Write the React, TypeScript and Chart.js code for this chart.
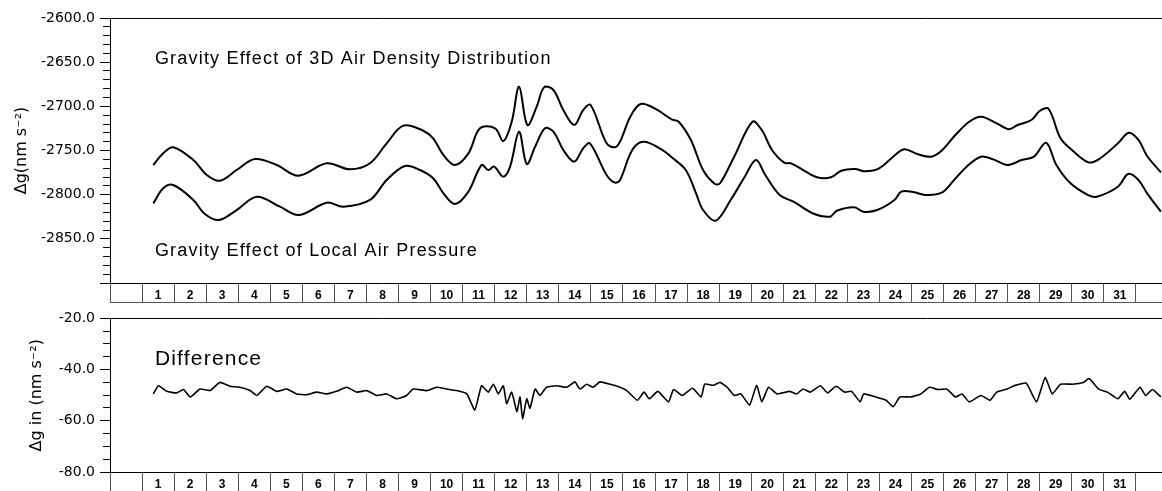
import React, { useEffect, useRef } from 'react';
import { Chart, registerables } from 'chart.js';

Chart.register(...registerables);
Chart.defaults.color = '#000';

// ---------- data (x = day of month, y = nm s^-2) ----------
const DAY_LABELS = ['1','2','3','4','5','6','7','8','9','10','11','12','13','14','15','16','17','18','19','20','21','22','23','24','25','26','27','28','29','30','31'];
const DAY_BOUNDARIES = [0,1,2,3,4,5,6,7,8,9,10,11,12,13,14,15,16,17,18,19,20,21,22,23,24,25,26,27,28,29,30,31,32];

const TOP_Y_LABELED = [-2600, -2650, -2700, -2750, -2800, -2850];
const BOTTOM_Y_LABELED = [-20, -40, -60, -80];

const DENSITY_EFFECT: [number, number][] = [
  [1.35,-2766.4],[1.66,-2753.2],[1.97,-2746.4],[2.60,-2760.8],[3.02,-2777.7],[3.43,-2784.2],[3.95,-2772.1],
  [4.52,-2759.6],[5.20,-2766.4],[5.87,-2778.5],[6.76,-2764.5],[7.49,-2771.3],[8.11,-2764.5],[8.63,-2741.9],
  [9.15,-2721.9],[9.77,-2727.6],[10.08,-2736.2],[10.40,-2755.1],[10.76,-2766.4],[11.18,-2753.2],[11.54,-2724.9],
  [12.01,-2724.9],[12.27,-2739.2],[12.53,-2717.4],[12.76,-2677.8],[13.02,-2721.1],[13.31,-2700.4],[13.54,-2678.5],
  [13.83,-2681.5],[14.14,-2704.2],[14.48,-2721.1],[14.76,-2704.2],[14.99,-2698.5],[15.49,-2741.9],[15.75,-2746.4],
  [15.91,-2740.0],[16.23,-2711.7],[16.55,-2697.4],[16.99,-2702.3],[17.52,-2714.7],[17.74,-2717.4],[18.12,-2738.1],
  [18.50,-2772.1],[18.87,-2787.9],[19.03,-2787.1],[19.47,-2757.0],[20.04,-2717.4],[20.33,-2726.8],[20.65,-2749.4],
  [21.03,-2763.8],[21.24,-2764.5],[21.62,-2772.1],[22.05,-2780.3],[22.49,-2780.3],[22.81,-2772.9],[23.24,-2771.0],
  [23.56,-2773.6],[23.99,-2770.2],[24.43,-2757.0],[24.77,-2748.6],[25.18,-2754.0],[25.61,-2757.0],[25.94,-2750.2],
  [26.37,-2732.5],[26.80,-2717.4],[27.17,-2711.7],[27.66,-2719.2],[28.04,-2726.0],[28.31,-2721.1],[28.74,-2715.5],
  [29.01,-2705.0],[29.28,-2703.0],[29.65,-2736.2],[30.03,-2750.2],[30.52,-2763.4],[30.84,-2760.0],[31.44,-2741.9],
  [31.78,-2729.9],[32.08,-2738.1],[32.35,-2756.2],[32.78,-2774.7],
];

const PRESSURE_EFFECT: [number, number][] = [
  [1.35,-2809.8],[1.66,-2792.8],[1.97,-2789.1],[2.60,-2806.0],[2.96,-2821.9],[3.40,-2828.7],[3.95,-2817.4],
  [4.58,-2802.3],[5.30,-2813.6],[5.90,-2823.0],[6.76,-2809.1],[7.28,-2813.6],[8.11,-2806.0],[8.63,-2783.4],
  [9.20,-2767.5],[9.67,-2772.1],[10.08,-2781.5],[10.40,-2798.5],[10.76,-2810.6],[11.18,-2796.6],[11.59,-2766.4],
  [11.80,-2772.1],[11.98,-2768.3],[12.27,-2779.7],[12.48,-2768.3],[12.76,-2728.7],[13.00,-2765.3],[13.26,-2745.7],
  [13.57,-2724.9],[13.83,-2728.7],[14.14,-2749.4],[14.48,-2762.7],[14.76,-2747.5],[14.97,-2741.9],[15.49,-2777.7],
  [15.75,-2786.4],[15.91,-2783.4],[16.29,-2749.4],[16.64,-2740.0],[17.20,-2748.6],[17.52,-2757.7],[17.96,-2772.1],
  [18.28,-2798.5],[18.50,-2817.4],[18.89,-2829.5],[19.36,-2806.0],[19.80,-2779.7],[20.15,-2760.8],[20.44,-2777.7],
  [20.89,-2800.4],[21.32,-2808.0],[21.97,-2821.9],[22.46,-2824.9],[22.67,-2818.2],[23.22,-2814.3],[23.50,-2819.3],
  [23.93,-2817.4],[24.47,-2806.0],[24.68,-2796.6],[25.01,-2796.6],[25.44,-2800.4],[25.94,-2797.8],[26.33,-2783.4],
  [26.72,-2768.3],[27.17,-2757.0],[27.55,-2760.0],[27.99,-2766.4],[28.44,-2760.8],[28.82,-2757.0],[29.20,-2741.2],
  [29.52,-2766.4],[29.96,-2787.1],[30.51,-2800.4],[30.78,-2802.3],[31.44,-2791.0],[31.76,-2776.6],[32.08,-2783.4],
  [32.35,-2798.5],[32.78,-2819.3],
];

const DIFFERENCE: [number, number][] = [
  [1.35,-49.5],[1.51,-46.3],[1.77,-48.5],[2.08,-49.1],[2.29,-47.8],[2.50,-50.7],[2.81,-47.6],[3.12,-48.2],
  [3.43,-45.0],[3.74,-46.5],[4.05,-46.9],[4.37,-48.2],[4.58,-50.1],[4.89,-46.5],[5.20,-48.5],[5.51,-47.6],
  [5.82,-49.5],[6.14,-49.8],[6.45,-48.8],[6.76,-49.5],[7.07,-48.5],[7.38,-46.9],[7.70,-48.8],[8.01,-48.2],
  [8.32,-50.1],[8.63,-49.5],[8.94,-51.4],[9.25,-50.1],[9.46,-47.6],[9.88,-48.2],[10.19,-46.9],[10.50,-47.6],
  [10.81,-48.2],[11.13,-49.5],[11.38,-55.8],[11.59,-46.3],[11.80,-48.8],[11.96,-45.7],[12.11,-49.5],[12.27,-46.3],
  [12.37,-53.3],[12.53,-48.8],[12.69,-56.4],[12.79,-50.7],[12.87,-59.2],[13.00,-51.4],[13.10,-55.1],[13.26,-47.6],
  [13.41,-50.1],[13.62,-46.9],[13.93,-46.3],[14.25,-46.9],[14.50,-44.8],[14.66,-47.6],[14.87,-45.7],[15.07,-46.9],
  [15.28,-44.8],[15.60,-45.7],[15.91,-46.9],[16.12,-48.2],[16.45,-52.0],[16.66,-48.8],[16.82,-51.4],[17.09,-48.5],
  [17.42,-52.6],[17.58,-47.8],[17.85,-50.1],[18.17,-47.3],[18.44,-50.7],[18.55,-45.7],[18.82,-46.1],[19.03,-45.0],
  [19.25,-46.9],[19.47,-50.1],[19.68,-49.5],[19.95,-53.9],[20.17,-46.1],[20.33,-52.6],[20.54,-46.9],[20.81,-49.5],
  [21.19,-48.5],[21.41,-49.5],[21.62,-47.6],[21.84,-48.8],[22.16,-46.3],[22.38,-49.1],[22.65,-46.5],[22.92,-48.8],
  [23.13,-48.5],[23.40,-52.6],[23.51,-49.5],[23.89,-50.7],[24.21,-52.0],[24.43,-54.5],[24.64,-50.7],[24.97,-50.7],
  [25.29,-49.5],[25.56,-46.9],[25.83,-47.8],[26.10,-47.6],[26.37,-50.7],[26.58,-49.5],[26.80,-52.6],[27.17,-50.1],
  [27.45,-52.0],[27.66,-48.8],[27.98,-47.6],[28.20,-46.3],[28.58,-45.3],[28.90,-52.6],[29.17,-43.1],[29.39,-49.5],
  [29.65,-45.7],[30.03,-45.7],[30.36,-45.0],[30.54,-43.5],[30.84,-47.6],[31.11,-48.8],[31.44,-51.4],[31.65,-48.5],
  [31.81,-51.6],[32.13,-46.9],[32.30,-50.1],[32.52,-47.8],[32.78,-50.7],
];

const TOP_TEXTS = ['Gravity Effect of 3D Air Density Distribution', 'Gravity Effect of Local Air Pressure'];
const BOTTOM_TEXTS = ['Difference'];

// ---------- helpers ----------
const X_MAX = 34;
const TEXT_FONT = '"Liberation Sans", Arial, sans-serif';
const AXIS_FONT = '"DejaVu Sans", sans-serif';

function rangeTicks(min: number, max: number, step: number) {
  const out: number[] = [];
  for (let v = min; v <= max + 1e-9; v += step) out.push(Math.round(v * 1000) / 1000);
  return out;
}

function dayAxis() {
  return {
    type: 'linear',
    position: 'bottom',
    min: 0,
    max: X_MAX,
    afterBuildTicks: (s: any) => {
      const vals = [...DAY_BOUNDARIES, ...DAY_LABELS.map((_, i) => i + 1.5)].sort((a, b) => a - b);
      s.ticks = vals.map((v) => ({ value: v }));
    },
    afterFit: (s: any) => { s.height = 20; },
    grid: {
      display: true,
      drawOnChartArea: false,
      drawTicks: true,
      tickLength: 20,
      tickWidth: 1,
      tickColor: (c: any) => (Number.isInteger(c.tick?.value) ? '#555' : 'rgba(0,0,0,0)'),
    },
    border: { display: true, color: '#000', width: 1 },
    ticks: {
      autoSkip: false,
      maxRotation: 0,
      minRotation: 0,
      padding: -15,
      color: '#000',
      font: { family: TEXT_FONT, size: 12, weight: 'bold' },
      callback: (v: number) => (Number.isInteger(v) ? '' : DAY_LABELS[Math.floor(v) - 1] ?? ''),
    },
  };
}

function valueAxis(min: number, max: number, step: number, majorStep: number, labeled: number[], title: string, titlePad: number) {
  const isMajor = (v: number) => Math.abs(v % majorStep) < 1e-6;
  return {
    type: 'linear',
    position: 'left',
    min,
    max,
    afterBuildTicks: (s: any) => { s.ticks = rangeTicks(min, max, step).map((v) => ({ value: v })); },
    afterFit: (s: any) => { s.width = 110; },
    grid: {
      display: true,
      drawOnChartArea: false,
      drawTicks: true,
      tickLength: 10,
      tickWidth: 1,
      tickColor: '#000',
      tickBorderDash: (c: any) => (isMajor(c.tick?.value ?? 0) ? [] : [7, 3]),
      tickBorderDashOffset: (c: any) => (isMajor(c.tick?.value ?? 0) ? 0 : 7),
    },
    border: { display: true, color: '#000', width: 1 },
    ticks: {
      autoSkip: false,
      padding: 5,
      color: '#000',
      font: { family: AXIS_FONT, size: 14 },
      callback: (v: number) => (labeled.includes(v) ? v.toFixed(1) : ''),
    },
    title: {
      display: true,
      text: title,
      color: '#000',
      font: { family: AXIS_FONT, size: 16 },
      padding: { top: titlePad, bottom: 0 },
    },
  };
}

const framePlugin = {
  id: 'frame',
  afterDraw(chart: any) {
    const { ctx, chartArea, scales } = chart;
    ctx.save();
    ctx.lineWidth = 1;
    ctx.strokeStyle = '#000';
    const t = Math.round(chartArea.top) + 0.5;
    ctx.beginPath();
    ctx.moveTo(chartArea.left, t);
    ctx.lineTo(chartArea.right, t);
    ctx.stroke();
    const xs = scales.x;
    const b = Math.round(xs.bottom) - 0.5;
    ctx.strokeStyle = '#555';
    ctx.beginPath();
    ctx.moveTo(chartArea.left, b);
    ctx.lineTo(chartArea.right, b);
    ctx.stroke();
    ctx.restore();
  },
};

const notesPlugin = {
  id: 'notes',
  afterDatasetsDraw(chart: any, _args: any, opts: any) {
    const items = opts?.items || [];
    const { ctx, scales } = chart;
    ctx.save();
    for (const it of items) {
      ctx.font = `${it.size}px ${TEXT_FONT}`;
      try { (ctx as any).letterSpacing = `${it.spacing}px`; } catch (e) { /* ignore */ }
      ctx.fillStyle = '#000';
      ctx.textBaseline = 'alphabetic';
      ctx.textAlign = 'left';
      ctx.fillText(it.text, scales.x.getPixelForValue(it.day), scales.y.getPixelForValue(it.value));
    }
    ctx.restore();
  },
};

function lineDataset(points: [number, number][], width: number, tension: number) {
  return {
    data: points.map(([x, y]) => ({ x, y })),
    borderColor: '#000',
    backgroundColor: '#000',
    borderWidth: width,
    pointRadius: 0,
    tension,
    fill: false,
  };
}

export default function App() {
  const topRef = useRef<HTMLCanvasElement | null>(null);
  const botRef = useRef<HTMLCanvasElement | null>(null);

  useEffect(() => {
    const top = new Chart(topRef.current as HTMLCanvasElement, {
      type: 'line',
      data: {
        datasets: [lineDataset(DENSITY_EFFECT, 2, 0.35), lineDataset(PRESSURE_EFFECT, 2, 0.35)] as any,
      },
      options: {
        animation: false,
        responsive: false,
        maintainAspectRatio: false,
        devicePixelRatio: 1,
        layout: { padding: { left: 0, right: 0, top: 18, bottom: 2 } },
        plugins: {
          legend: { display: false },
          tooltip: { enabled: false },
          notes: {
            items: [
              { text: TOP_TEXTS[0], day: 1.4, value: -2652, size: 18, spacing: 1.2 },
              { text: TOP_TEXTS[1], day: 1.4, value: -2869, size: 18, spacing: 1.2 },
            ],
          },
        } as any,
        scales: {
          x: dayAxis() as any,
          y: valueAxis(-2900, -2600, 10, 50, TOP_Y_LABELED, 'Δg(nm s⁻²)', 12) as any,
        },
      },
      plugins: [framePlugin, notesPlugin],
    });

    const bottom = new Chart(botRef.current as HTMLCanvasElement, {
      type: 'line',
      data: { datasets: [lineDataset(DIFFERENCE, 1.6, 0.15)] as any },
      options: {
        animation: false,
        responsive: false,
        maintainAspectRatio: false,
        devicePixelRatio: 1,
        layout: { padding: { left: 0, right: 0, top: 9, bottom: 0 } },
        plugins: {
          legend: { display: false },
          tooltip: { enabled: false },
          notes: { items: [{ text: BOTTOM_TEXTS[0], day: 1.4, value: -38.1, size: 21, spacing: 1.2 }] },
        } as any,
        scales: {
          x: dayAxis() as any,
          y: valueAxis(-80, -20, 5, 20, BOTTOM_Y_LABELED, 'Δg in (nm s⁻²)', 27) as any,
        },
      },
      plugins: [framePlugin, notesPlugin],
    });

    return () => {
      top.destroy();
      bottom.destroy();
    };
  }, []);

  return (
    <div style={{ position: 'fixed', left: 0, top: 0, width: 1162, height: 491, overflow: 'hidden', background: '#fff' }}>
      <div style={{ position: 'absolute', left: 0, top: 0, width: 1200, height: 305 }}>
        <canvas ref={topRef} width={1200} height={305} style={{ width: 1200, height: 305, display: 'block' }} />
      </div>
      <div style={{ position: 'absolute', left: 0, top: 305, width: 1200, height: 187 }}>
        <canvas ref={botRef} width={1200} height={187} style={{ width: 1200, height: 187, display: 'block' }} />
      </div>
    </div>
  );
}
